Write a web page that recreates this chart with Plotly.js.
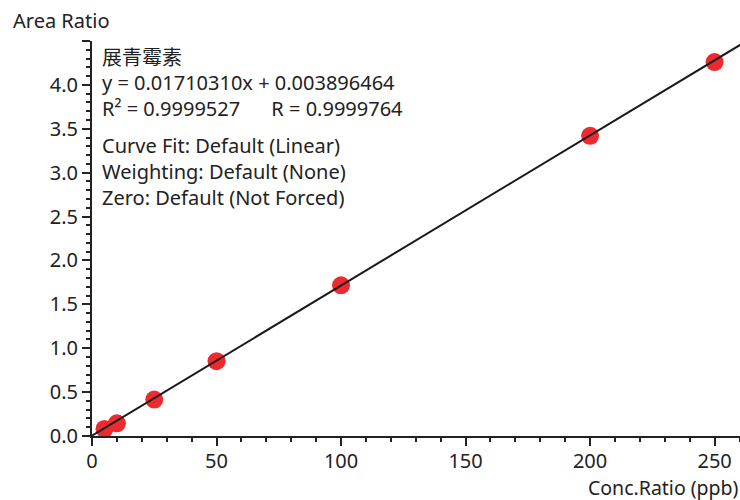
<!DOCTYPE html>
<html>
<head>
<meta charset="utf-8">
<script src="https://cdn.plot.ly/plotly-3.0.1.min.js"></script>
<style>html,body{margin:0;padding:0;background:#fff;}#chart{width:740px;height:500px;}</style>
</head>
<body>
<div id="chart"></div>
<script>
// Data
const concRatio = [5, 10, 25, 50, 100, 200, 250];
const areaRatio = [0.08, 0.145, 0.415, 0.853, 1.716, 3.42, 4.26];
const fitSlope = 0.01710310;
const fitIntercept = 0.003896464;
const fitX = [0, 261];
const yTickVals = [0, 0.5, 1.0, 1.5, 2.0, 2.5, 3.0, 3.5, 4.0, 4.5];
const yTickText = ["0.0", "0.5", "1.0", "1.5", "2.0", "2.5", "3.0", "3.5", "4.0", ""];
const xTickVals = [0, 50, 100, 150, 200, 250];
const infoLines = [
  "展青霉素",
  "y = 0.01710310x + 0.003896464",
  "R\u00b2 = 0.9999527\u00a0\u00a0\u00a0\u00a0\u00a0\u00a0R = 0.9999764",
  "Curve Fit:\u00a0Default (Linear)",
  "Weighting: Default (None)",
  "Zero: Default (Not Forced)"
];
const infoPixelY = [57, 82, 108, 145, 171, 197];

const fitY = fitX.map(x => fitSlope * x + fitIntercept);

const FONT = '"Noto Sans", "Noto Sans CJK SC", sans-serif';
const FS = 20;
const plotTop = 40.5, plotBottom = 436;
const toPaperY = py => (plotBottom - py) / (plotBottom - plotTop);

const annotations = infoLines.map((t, i) => ({
  text: t, xref: 'paper', yref: 'paper', x: (100 - 92) / 648, y: toPaperY(infoPixelY[i]),
  xanchor: 'left', yanchor: 'middle', showarrow: false,
  font: {family: FONT, size: FS, color: '#222'}
}));
annotations.push({
  text: 'Area Ratio', xref: 'paper', yref: 'paper', x: (11 - 92) / 648, y: toPaperY(20),
  xanchor: 'left', yanchor: 'middle', showarrow: false,
  font: {family: FONT, size: FS, color: '#222'}
});
annotations.push({
  text: 'Conc.Ratio (ppb)', xref: 'paper', yref: 'paper', x: 1, y: toPaperY(488),
  xanchor: 'right', yanchor: 'middle', showarrow: false, borderpad: 0,
  font: {family: FONT, size: 19.5, color: '#222'}
});

const data = [
  {x: concRatio, y: areaRatio, mode: 'markers', type: 'scatter', cliponaxis: false,
   marker: {size: 18, color: '#ec2a30', line: {width: 0}}, hoverinfo: 'x+y'},
  {x: fitX, y: fitY, mode: 'lines', type: 'scatter',
   line: {color: '#1a1a1a', width: 2}, hoverinfo: 'skip'}
];

const layout = {
  width: 740, height: 500,
  margin: {l: 92, r: 0, t: 40.5, b: 64},
  paper_bgcolor: '#fff', plot_bgcolor: '#fff',
  showlegend: false,
  font: {family: FONT, size: FS, color: '#222'},
  xaxis: {
    range: [0, 260.2], showgrid: false, zeroline: false,
    showline: true, linecolor: '#222', linewidth: 2,
    tickmode: 'array', tickvals: xTickVals,
    ticks: 'outside', ticklen: 8, tickwidth: 2, tickcolor: '#222',
    ticklabelstandoff: -2,
    minor: {dtick: 10, tick0: 0, ticks: 'outside', ticklen: 4, tickwidth: 2, tickcolor: '#222', showgrid: false},
    tickfont: {family: FONT, size: FS, color: '#222'}
  },
  yaxis: {
    range: [0, 4.5], showgrid: false, zeroline: false,
    showline: true, linecolor: '#222', linewidth: 2,
    tickmode: 'array', tickvals: yTickVals, ticktext: yTickText,
    ticks: 'outside', ticklen: 8, tickwidth: 2, tickcolor: '#222',
    minor: {dtick: 0.1, tick0: 0, ticks: 'outside', ticklen: 4, tickwidth: 2, tickcolor: '#222', showgrid: false},
    tickfont: {family: FONT, size: FS, color: '#222'}
  },
  annotations: annotations
};

Plotly.newPlot('chart', data, layout, {displayModeBar: false, staticPlot: true});
</script>
</body>
</html>
